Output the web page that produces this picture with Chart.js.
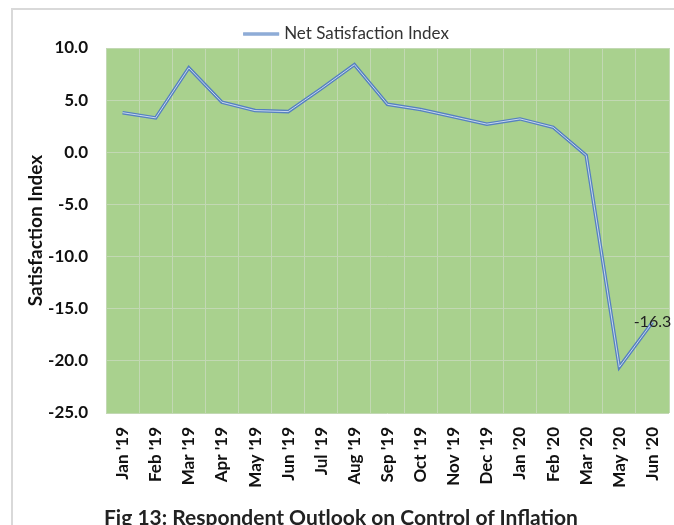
<!DOCTYPE html>
<html>
<head>
<meta charset="utf-8">
<script src="https://cdn.jsdelivr.net/npm/chart.js@4"></script>
<style>
  body { margin: 0; background: #fff; }
  #wrap { position: relative; width: 674px; height: 525px; overflow: hidden; }
  #frame { position: absolute; left: 11px; top: 8px; width: 700px; height: 600px;
           border-left: 2px solid #d9d9d9; border-top: 2px solid #d9d9d9; }
  #caption { position: absolute; left: 104px; top: 506px; font: bold 21px Lato, sans-serif;
             line-height: 21px; color: #222; white-space: nowrap; }
  canvas { position: absolute; left: 0; top: 0; }
</style>
</head>
<body>
<div id="wrap">
  <div id="frame"></div>
  <canvas id="c" width="674" height="525"></canvas>
  <div id="caption">Fig 13: Respondent Outlook on Control of Inflation</div>
</div>
<script>
const months = ["Jan '19", "Feb '19", "Mar '19", "Apr '19", "May '19", "Jun '19", "Jul '19", "Aug '19",
  "Sep '19", "Oct '19", "Nov '19", "Dec '19", "Jan '20", "Feb '20", "Mar '20", "May '20", "Jun '20"];
const netIndex = [3.8, 3.3, 8.1, 4.8, 4.0, 3.9, 6.1, 8.4, 4.6, 4.1, 3.4, 2.7, 3.2, 2.4, -0.3, -20.6, -16.3];
const seriesName = 'Net Satisfaction Index';
const yMin = -25, yMax = 10, yStep = 5;

const FONT = 'Lato, sans-serif';

// green plot background
const plotBg = {
  id: 'plotBg',
  beforeDraw(chart) {
    const {ctx, chartArea: a} = chart;
    ctx.save();
    ctx.fillStyle = '#a9d18e';
    ctx.fillRect(a.left, a.top, a.right - a.left, a.bottom - a.top);
    ctx.restore();
  }
};

// inner light stroke to make the excel "double" line, plus last value label
const doubleLine = {
  id: 'doubleLine',
  afterDatasetsDraw(chart) {
    const ctx = chart.ctx;
    const pts = chart.getDatasetMeta(0).data;
    ctx.save();
    ctx.strokeStyle = '#c8d8ee';
    ctx.lineWidth = 1;
    ctx.beginPath();
    pts.forEach((p, i) => i ? ctx.lineTo(p.x, p.y) : ctx.moveTo(p.x, p.y));
    ctx.stroke();

    const last = pts[pts.length - 1];
    ctx.fillStyle = '#222';
    ctx.font = '16px ' + FONT;
    ctx.textAlign = 'center';
    ctx.textBaseline = 'middle';
    ctx.fillText(netIndex[netIndex.length - 1].toFixed(1), last.x, last.y);
    ctx.restore();
  }
};

// legend drawn by hand so the plot top can sit where it does in the picture
const lineLegend = {
  id: 'lineLegend',
  afterDraw(chart) {
    const ctx = chart.ctx;
    const label = chart.data.datasets[0].label;
    ctx.save();
    ctx.font = '17px ' + FONT;
    const tw = ctx.measureText(label).width;
    const sw = 36, gap = 5;
    const total = sw + gap + tw;
    const x0 = chart.width / 2 + 9 - total / 2;
    const y = 34;
    ctx.strokeStyle = '#5580c0';
    ctx.lineWidth = 3;
    ctx.beginPath(); ctx.moveTo(x0, y); ctx.lineTo(x0 + sw, y); ctx.stroke();
    ctx.strokeStyle = '#c8d8ee';
    ctx.lineWidth = 1;
    ctx.beginPath(); ctx.moveTo(x0, y); ctx.lineTo(x0 + sw, y); ctx.stroke();
    ctx.fillStyle = '#333';
    ctx.textBaseline = 'middle';
    ctx.fillText(label, x0 + sw + gap, y);
    ctx.restore();
  }
};

new Chart(document.getElementById('c'), {
  type: 'line',
  data: {
    labels: months,
    datasets: [{
      label: seriesName,
      data: netIndex,
      borderColor: '#5580c0',
      borderWidth: 3.5,
      pointRadius: 0,
      tension: 0,
      fill: false
    }]
  },
  options: {
    responsive: false,
    animation: false,
    layout: { padding: { left: 22, right: 5, top: 48, bottom: 0 } },
    plugins: {
      legend: { display: false },
      tooltip: { enabled: false }
    },
    scales: {
      x: {
        offset: true,
        grid: { color: '#c2d8b3', drawTicks: false, offset: true },
        border: { display: false },
        ticks: {
          autoSkip: false, maxRotation: 90, minRotation: 90, padding: 14,
          color: '#111', font: { family: FONT, size: 17, weight: 'bold' }
        },
        afterFit(scale) {
          scale.height = 112;
          scale.paddingLeft = 0;
          scale.paddingRight = 0;
        }
      },
      y: {
        min: yMin, max: yMax,
        grid: { color: '#c2d8b3', drawTicks: false },
        border: { display: false },
        ticks: {
          stepSize: yStep, padding: 18,
          color: '#111', font: { family: FONT, size: 17, weight: 'bold' },
          callback: v => v.toFixed(1)
        },
        title: {
          display: true, text: 'Satisfaction Index', color: '#111',
          font: { family: FONT, size: 19, weight: 'bold' }, padding: { top: 2, bottom: 0 }
        },
        afterFit(scale) { scale.width = 84; }
      }
    }
  },
  plugins: [plotBg, doubleLine, lineLegend]
});
</script>
</body>
</html>
